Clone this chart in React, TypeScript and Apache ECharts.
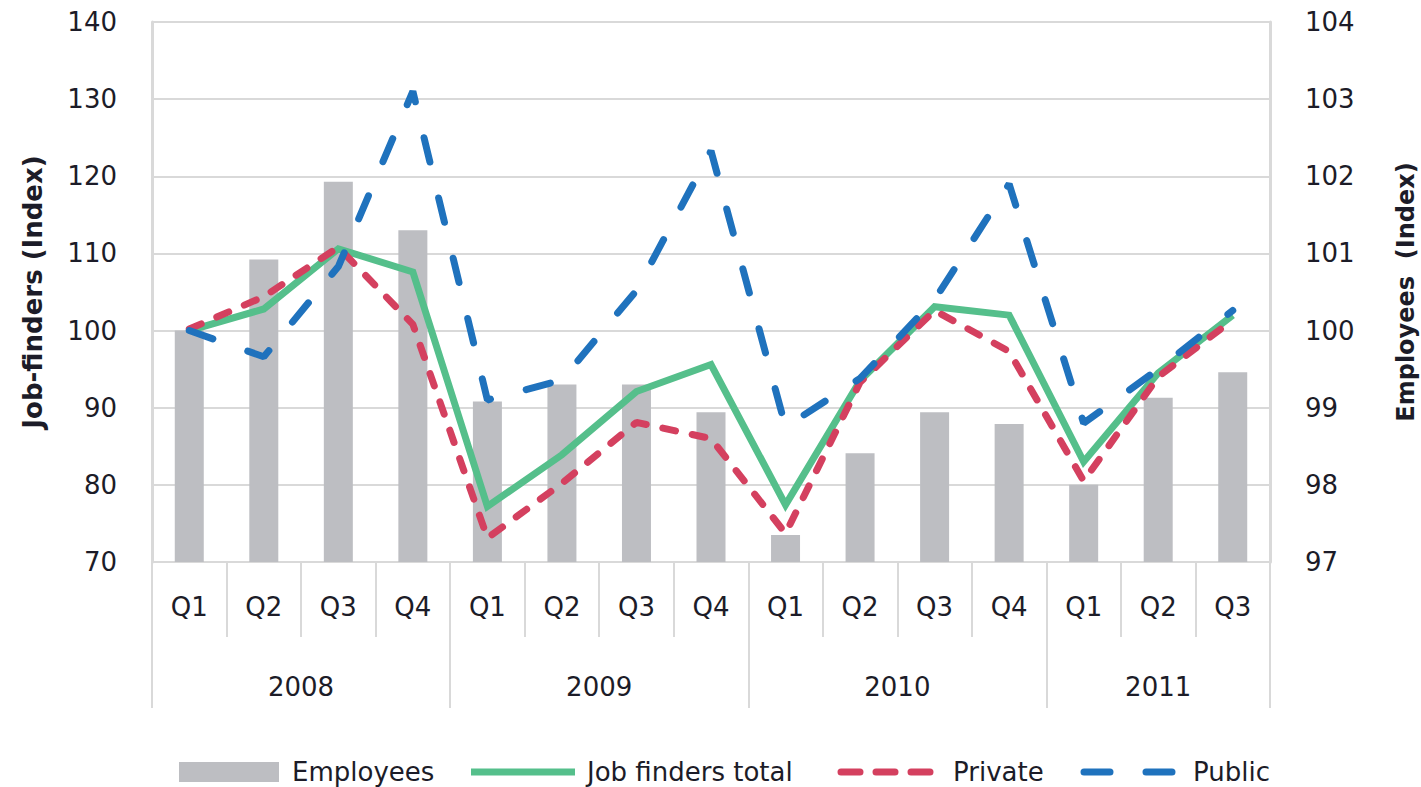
import React, { useEffect, useRef } from "react";
import * as echarts from "echarts";

const quarters = ["Q1", "Q2", "Q3", "Q4", "Q1", "Q2", "Q3", "Q4", "Q1", "Q2", "Q3", "Q4", "Q1", "Q2", "Q3"];
const years = ["2008", "2009", "2010", "2011"];
const quartersPerYear = [4, 4, 4, 3];

const employees = [100.0, 100.92, 101.93, 101.3, 99.08, 99.3, 99.3, 98.94, 97.35, 98.41, 98.94, 98.79, 98.0, 99.13, 99.46];
const jobFindersTotal = [100, 102.8, 110.6, 107.6, 77.2, 83.9, 92.1, 95.6, 77.4, 93.5, 103.1, 102.0, 83.0, 94.5, 102.0];
const privateSector = [100.2, 104.4, 110.8, 100.8, 73.1, 80.2, 88.1, 86.0, 73.7, 93.3, 102.6, 97.3, 80.5, 94.0, 101.4];
const publicSector = [100, 96.6, 108.3, 131.0, 91.0, 93.6, 105.2, 123.3, 87.5, 93.8, 104.0, 119.0, 88.0, 95.0, 102.6];

const seriesNames = ["Employees", "Job finders total", "Private", "Public"];

const leftAxis = { min: 70, max: 140, interval: 10 };
const rightAxis = { min: 97, max: 104, interval: 1 };

const TEXT = "#1c1c28";
const GRIDC = "#d9d9d9";
const FONT = "DejaVu Sans";
const C_BAR = "#bdbec2";
const C_TOTAL = "#55bf8b";
const C_PRIV = "#d4405f";
const C_PUB = "#1f72bd";
const LW = 7;

export default function App() {
  const ref = useRef<HTMLDivElement>(null);
  useEffect(() => {
    if (!ref.current) return;
    const chart = echarts.init(ref.current, null, { renderer: "svg" });

    const boundaries: number[] = [0];
    const centers: number[] = [];
    quartersPerYear.forEach((n) => {
      const start = boundaries[boundaries.length - 1];
      centers.push(start + n / 2);
      boundaries.push(start + n);
    });
    const total = boundaries[boundaries.length - 1];

    const ly = 772;
    const legendText = (x: number, s: string) => ({
      type: "text",
      x,
      y: ly,
      style: { text: s, fill: TEXT, font: `26px "${FONT}"`, verticalAlign: "middle", align: "left" },
    });

    chart.setOption({
      animation: false,
      backgroundColor: "#ffffff",
      textStyle: { fontFamily: FONT, color: TEXT },
      grid: { left: 152, right: 151, top: 22, bottom: 225, containLabel: false, outerBoundsMode: "none" },
      graphic: [
        { type: "rect", shape: { x: 179, y: ly - 10, width: 100, height: 20 }, style: { fill: C_BAR } },
        legendText(292, seriesNames[0]),
        { type: "line", shape: { x1: 471, y1: ly, x2: 575, y2: ly }, style: { stroke: C_TOTAL, lineWidth: LW } },
        legendText(587, seriesNames[1]),
        {
          type: "line",
          shape: { x1: 841, y1: ly, x2: 930, y2: ly },
          style: { stroke: C_PRIV, lineWidth: LW, lineDash: [19, 16], lineCap: "round" },
        },
        legendText(953, seriesNames[2]),
        {
          type: "line",
          shape: { x1: 1084, y1: ly, x2: 1172, y2: ly },
          style: { stroke: C_PUB, lineWidth: LW, lineDash: [26, 36], lineCap: "round" },
        },
        legendText(1193, seriesNames[3]),
      ],
      xAxis: [
        {
          type: "category",
          data: quarters,
          boundaryGap: true,
          axisLine: { lineStyle: { color: GRIDC, width: 2 } },
          axisTick: { show: true, interval: 0, length: 75, alignWithLabel: false, lineStyle: { color: GRIDC, width: 2 } },
          axisLabel: { interval: 0, margin: 32, fontSize: 26, color: TEXT, fontFamily: FONT },
          splitLine: { show: false },
        },
        {
          type: "value",
          min: 0,
          max: total,
          position: "bottom",
          axisLine: { show: false },
          splitLine: { show: false },
          axisTick: { show: true, customValues: boundaries, length: 146, lineStyle: { color: GRIDC, width: 2 } },
          axisLabel: {
            customValues: centers,
            margin: 112,
            fontSize: 26,
            color: TEXT,
            fontFamily: FONT,
            formatter: (v: number) => {
              const i = centers.findIndex((c) => Math.abs(c - v) < 1e-6);
              return i >= 0 ? years[i] : "";
            },
          },
        },
      ],
      yAxis: [
        {
          type: "value",
          min: leftAxis.min,
          max: leftAxis.max,
          interval: leftAxis.interval,
          name: "Job-finders (Index)",
          nameLocation: "middle",
          nameRotate: 90,
          nameGap: 106,
          nameTextStyle: { fontFamily: FONT, fontSize: 26, fontWeight: "bold", color: TEXT },
          axisLine: { show: true, lineStyle: { color: GRIDC, width: 3 } },
          axisTick: { show: false },
          axisLabel: { margin: 35, fontSize: 26, color: TEXT, fontFamily: FONT },
          splitLine: { show: true, lineStyle: { color: GRIDC, width: 2 } },
        },
        {
          type: "value",
          min: rightAxis.min,
          max: rightAxis.max,
          interval: rightAxis.interval,
          position: "right",
          name: "Employees  (Index)",
          nameLocation: "middle",
          nameRotate: 90,
          nameGap: 124,
          nameTextStyle: { fontFamily: FONT, fontSize: 24, fontWeight: "bold", color: TEXT },
          axisLine: { show: true, lineStyle: { color: GRIDC, width: 3 } },
          axisTick: { show: false },
          axisLabel: { margin: 35, fontSize: 26, color: TEXT, fontFamily: FONT },
          splitLine: { show: false },
        },
      ],
      series: [
        {
          name: seriesNames[0],
          type: "bar",
          xAxisIndex: 0,
          yAxisIndex: 1,
          data: employees,
          barWidth: 29,
          itemStyle: { color: C_BAR },
        },
        {
          name: seriesNames[1],
          type: "line",
          xAxisIndex: 0,
          yAxisIndex: 0,
          data: jobFindersTotal,
          symbol: "none",
          itemStyle: { color: C_TOTAL },
          lineStyle: { color: C_TOTAL, width: LW, join: "miter" },
        },
        {
          name: seriesNames[2],
          type: "line",
          xAxisIndex: 0,
          yAxisIndex: 0,
          data: privateSector,
          symbol: "none",
          itemStyle: { color: C_PRIV },
          lineStyle: { color: C_PRIV, width: LW, type: [13, 17], cap: "round" },
        },
        {
          name: seriesNames[3],
          type: "line",
          xAxisIndex: 0,
          yAxisIndex: 0,
          data: publicSector,
          symbol: "none",
          itemStyle: { color: C_PUB },
          lineStyle: { color: C_PUB, width: LW, type: [25, 37], cap: "round" },
        },
      ],
    });
    return () => chart.dispose();
  }, []);
  return <div ref={ref} style={{ position: "fixed", left: 0, top: 0, width: 1421, height: 787 }} />;
}
